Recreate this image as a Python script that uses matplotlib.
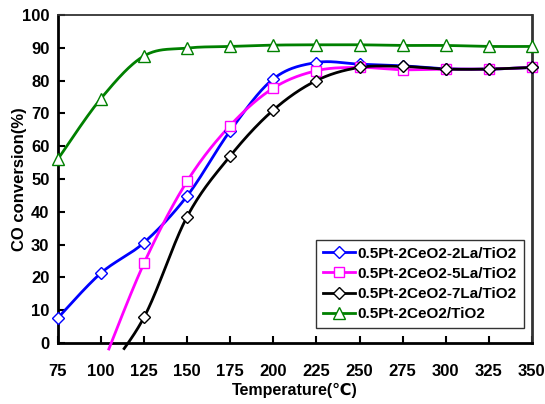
import numpy as np
import matplotlib
matplotlib.use("Agg")
import matplotlib.pyplot as plt

# =========================
# Data
# =========================

temps = [75, 100, 125, 150, 175, 200, 225, 250, 275, 300, 325, 350]

# None = no measurement; negative values sit below the axis
la2 = [7.6, 21.3, 30.6, 44.8, 64.7, 80.5, 85.5, 85.0, 84.5, 83.6, 83.5, 84.0]
la5 = [None, -8.0, 24.3, 49.3, 66.3, 77.7, 83.0, 84.0, 83.3, 83.5, 83.5, 84.0]
la7 = [None, -11.0, 7.8, 38.5, 57.0, 71.0, 80.0, 84.0, 84.3, 83.5, 83.5, 84.0]
base = [56.0, 74.5, 87.5, 89.9, 90.4, 90.8, 90.9, 90.9, 90.7, 90.7, 90.4, 90.4]

labels = ["0.5Pt-2CeO2-2La/TiO2", "0.5Pt-2CeO2-5La/TiO2",
          "0.5Pt-2CeO2-7La/TiO2", "0.5Pt-2CeO2/TiO2"]
colors = ["#0000ff", "#ff00ff", "#000000", "#008000"]
markers = ["D", "s", "D", "^"]
msizes = [6.5, 7.5, 6.5, 9]

plt.rcParams["font.family"] = ["Liberation Sans", "DejaVu Sans"]
plt.rcParams["font.weight"] = "bold"


# =========================
# Excel-like smoothed line (Catmull-Rom)
# =========================

def smooth(x, y, n=40):
    pts = [(a, b) for a, b in zip(x, y) if b is not None]
    px = np.array([p[0] for p in pts], float)
    py = np.array([p[1] for p in pts], float)
    t = np.linspace(0, 1, n)
    h00 = 2 * t**3 - 3 * t**2 + 1
    h10 = t**3 - 2 * t**2 + t
    h01 = -2 * t**3 + 3 * t**2
    h11 = t**3 - t**2
    xs, ys = [], []
    last = len(px) - 1
    for i in range(last):
        i0 = max(i - 1, 0)
        i3 = min(i + 2, last)
        for arr, out in ((px, xs), (py, ys)):
            m1 = (arr[i + 1] - arr[i0]) / 2
            m2 = (arr[i3] - arr[i]) / 2
            out.extend(h00 * arr[i] + h10 * m1 + h01 * arr[i + 1] + h11 * m2)
    return np.array(xs), np.array(ys)


# =========================
# Plot
# =========================

fig = plt.figure(figsize=(5.45, 4.04), dpi=100)
ax = fig.add_axes([0.106, 0.151, 0.870, 0.812])

for y, c, m, ms, lab in zip([la2, la5, la7, base], colors, markers,
                            msizes, labels):
    sx, sy = smooth(temps, y)
    sy = np.where(sy < -2, np.nan, sy)
    ax.plot(sx, sy, color=c, lw=2, clip_on=False, zorder=3)
    mx = [t for t, v in zip(temps, y) if v is not None and v >= 0]
    my = [v for v in y if v is not None and v >= 0]
    ax.plot(mx, my, ls="none", marker=m, ms=ms, mfc="white", mec=c,
            mew=1.0, clip_on=False, zorder=4)
    ax.plot([], [], color=c, lw=2, marker=m, ms=ms, mfc="white", mec=c,
            mew=1.0, label=lab)

ax.set_xlim(75, 350)
ax.set_ylim(0, 100)
ax.set_xticks(temps)
ax.set_yticks(range(0, 101, 10))
ax.tick_params(axis="x", direction="in", length=5, width=1.5, pad=15,
               labelsize=12)
ax.tick_params(axis="y", direction="in", length=5, width=1.5, pad=6,
               labelsize=12)

for lab in ax.get_xticklabels() + ax.get_yticklabels():
    lab.set_fontweight("bold")

ax.spines["left"].set_linewidth(2)
ax.spines["bottom"].set_linewidth(2)
ax.spines["top"].set_color("#333333")
ax.spines["top"].set_linewidth(1.3)
ax.spines["right"].set_color("#333333")
ax.spines["right"].set_linewidth(2)

ax.set_xlabel("Temperature(\u2103)", fontsize=11.5, fontweight="bold",
              labelpad=3)
ax.set_ylabel("CO conversion(%)", fontsize=12, fontweight="bold",
              labelpad=-4)

leg = ax.legend(loc="lower right", bbox_to_anchor=(0.983, 0.046),
                borderaxespad=0, prop={"size": 11, "weight": "bold"},
                frameon=True, fancybox=False, edgecolor="black",
                handlelength=2.1, handletextpad=0.2, borderpad=0.45,
                labelspacing=0.4)
leg.get_frame().set_linewidth(1)

fig.savefig("out.png", dpi=100)
